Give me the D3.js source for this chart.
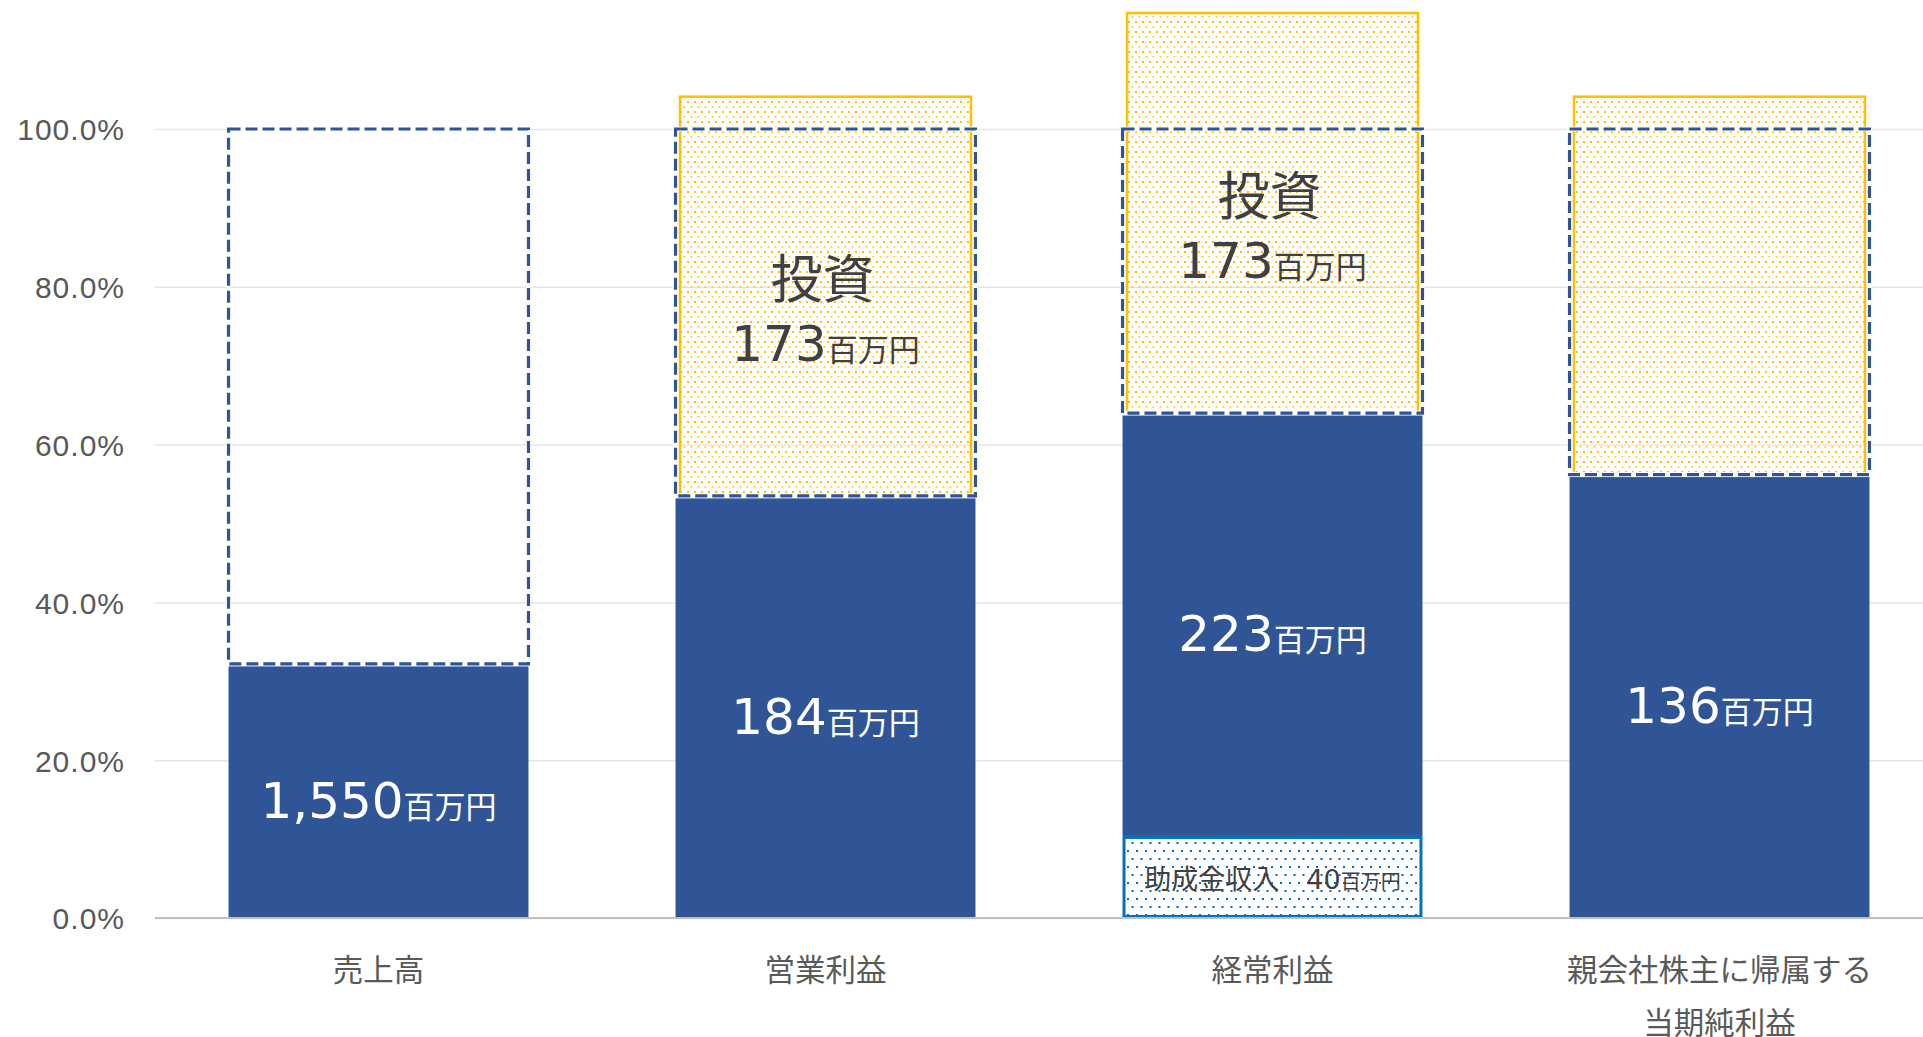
<!DOCTYPE html>
<html>
<head>
<meta charset="utf-8">
<script src="https://cdn.jsdelivr.net/npm/d3@7"></script>
<style>
  html, body { margin: 0; padding: 0; background: #fff; overflow: hidden; }
  svg { display: block; font-family: "DejaVu Sans", "Noto Sans CJK JP", sans-serif; }
</style>
</head>
<body>
<div id="chart"></div>
<script>
// values (percent of the bar scale)
var categories = ["売上高", "営業利益", "経常利益", "親会社株主に帰属する\n当期純利益"];
var subsidy    = [0, 0, 10.4, 0];
var profit     = [32.2, 53.5, 53.6, 56.2];
var investment = [0, 50.6, 50.7, 47.9];
var profitText = ["1,550", "184", "223", "136"];
var investText = ["", "173", "173", ""];
var subsidyText = ["", "", "助成金収入　40", ""];
var tickValues = [0, 20, 40, 60, 80, 100];
var unit = "百万円";

var width = 1923, height = 1037;
var blue = "#2F5597", yellow = "#FFC000", subBlue = "#0070C0";

var rows = categories.map(function(c, i) {
	return { cat: c, subsidy: subsidy[i], profit: profit[i],
		remainder: 100 - subsidy[i] - profit[i], investment: investment[i] };
});

var x = d3.scaleBand()
	.domain(categories)
	.range([155, 1943])
	.paddingInner(0.329)
	.paddingOuter(0.1645);

var y = d3.scaleLinear().domain([0, 100]).range([918, 129]);

var svg = d3.select("#chart").append("svg")
	.attr("width", width)
	.attr("height", height);

// patterns
var defs = svg.append("defs");
var pY = defs.append("pattern").attr("id", "dotsYellow")
	.attr("patternUnits", "userSpaceOnUse").attr("width", 7).attr("height", 10);
pY.append("rect").attr("x", 1).attr("y", 1).attr("width", 2).attr("height", 2).attr("fill", yellow);
pY.append("rect").attr("x", 4.5).attr("y", 6).attr("width", 1.8).attr("height", 1.8).attr("fill", yellow).attr("opacity", 0.8);

var pB = defs.append("pattern").attr("id", "dotsBlue")
	.attr("patternUnits", "userSpaceOnUse").attr("width", 9).attr("height", 16);
pB.append("rect").attr("x", 2).attr("y", 2).attr("width", 2).attr("height", 2).attr("fill", subBlue);
pB.append("rect").attr("x", 6.5).attr("y", 10).attr("width", 2).attr("height", 2).attr("fill", subBlue);

// gridlines + tick labels
var yAxis = d3.axisLeft(y)
	.tickValues(tickValues)
	.tickSize(-(width - 155))
	.tickPadding(30)
	.tickFormat(function(d) { return d.toFixed(1) + "%"; });

var gy = svg.append("g").attr("transform", "translate(155,0)").call(yAxis);
gy.select(".domain").remove();
gy.selectAll(".tick line").attr("stroke", "#E6E6E6").attr("stroke-width", 1.5);
gy.selectAll(".tick text")
	.attr("fill", "#595959")
	.style("font-size", "30px")
	.style("letter-spacing", "1px")
	.attr("dy", "0.36em");

var stackMain = d3.stack().keys(["subsidy", "profit", "remainder"])(rows);
var stackInv = d3.stack().keys(["subsidy", "profit", "investment"])(rows);

// investment (yellow dotted, a bit narrower)
var invW = x.bandwidth() * 0.97;
svg.append("g").selectAll("rect")
	.data(stackInv[2].filter(function(d) { return d.data.investment > 0; }))
	.enter().append("rect")
		.attr("x", function(d) { return x(d.data.cat) + (x.bandwidth() - invW) / 2; })
		.attr("y", function(d) { return y(d[1]); })
		.attr("width", invW)
		.attr("height", function(d) { return y(d[0]) - y(d[1]); })
		.attr("fill", "url(#dotsYellow)")
		.attr("stroke", yellow)
		.attr("stroke-width", 2.5);

// profit (solid blue)
svg.append("g").selectAll("rect")
	.data(stackMain[1])
	.enter().append("rect")
		.attr("x", function(d) { return x(d.data.cat); })
		.attr("y", function(d) { return y(d[1]); })
		.attr("width", x.bandwidth())
		.attr("height", function(d) { return y(d[0]) - y(d[1]); })
		.attr("fill", blue);

// subsidy (blue dotted)
var subRows = stackMain[0].filter(function(d) { return d.data.subsidy > 0; });
svg.append("g").selectAll("rect")
	.data(subRows)
	.enter().append("rect")
		.attr("x", function(d) { return x(d.data.cat) + 1.5; })
		.attr("y", function(d) { return y(d[1]) + 1.5; })
		.attr("width", x.bandwidth() - 3)
		.attr("height", function(d) { return y(d[0]) - y(d[1]) - 3; })
		.attr("fill", "#fff")
		.attr("stroke", subBlue)
		.attr("stroke-width", 3);
svg.append("g").selectAll("rect")
	.data(subRows)
	.enter().append("rect")
		.attr("x", function(d) { return x(d.data.cat) + 3; })
		.attr("y", function(d) { return y(d[1]) + 3; })
		.attr("width", x.bandwidth() - 6)
		.attr("height", function(d) { return y(d[0]) - y(d[1]) - 6; })
		.attr("fill", "url(#dotsBlue)");

// remainder up to 100% (dashed outline, no fill)
var rem = svg.append("g").selectAll("g")
	.data(stackMain[2])
	.enter().append("g");
rem.append("rect")
	.attr("x", function(d) { return x(d.data.cat); })
	.attr("y", function(d) { return y(d[1]); })
	.attr("width", x.bandwidth())
	.attr("height", function(d) { return y(d[0]) - y(d[1]); })
	.attr("fill", "none")
	.attr("stroke", "#fff")
	.attr("stroke-width", 5);
rem.append("rect")
	.attr("x", function(d) { return x(d.data.cat); })
	.attr("y", function(d) { return y(d[1]); })
	.attr("width", x.bandwidth())
	.attr("height", function(d) { return y(d[0]) - y(d[1]); })
	.attr("fill", "none")
	.attr("stroke", blue)
	.attr("stroke-width", 3.2)
	.attr("stroke-dasharray", "12 5");

// zero line
svg.append("line")
	.attr("x1", 155).attr("x2", width)
	.attr("y1", y(0)).attr("y2", y(0))
	.attr("stroke", "#BFBFBF").attr("stroke-width", 2);

// labels: profit
var pl = svg.append("g").selectAll("text")
	.data(stackMain[1])
	.enter().append("text")
		.attr("x", function(d) { return x(d.data.cat) + x.bandwidth() / 2; })
		.attr("y", function(d) { return (y(d[0]) + y(d[1])) / 2 + 27; })
		.attr("text-anchor", "middle")
		.attr("fill", "#fff");
pl.append("tspan").style("font-size", "50px")
	.text(function(d, i) { return profitText[i]; });
pl.append("tspan").style("font-size", "31px").text(unit);

// labels: investment
var il = svg.append("g").selectAll("g")
	.data(stackInv[2].filter(function(d, i) { return investText[i] !== ""; }))
	.enter().append("g");
il.append("text")
	.attr("x", function(d) { return x(d.data.cat) + x.bandwidth() / 2 - 3; })
	.attr("y", function(d) { return (y(d[0]) + y(d[1])) / 2 + 2; })
	.attr("text-anchor", "middle")
	.attr("fill", "#404040")
	.style("font-size", "52px")
	.text("投資");
var il2 = il.append("text")
	.attr("x", function(d) { return x(d.data.cat) + x.bandwidth() / 2; })
	.attr("y", function(d) { return (y(d[0]) + y(d[1])) / 2 + 65; })
	.attr("text-anchor", "middle")
	.attr("fill", "#404040");
il2.append("tspan").style("font-size", "50px")
	.text(function(d) { return investText[categories.indexOf(d.data.cat)]; });
il2.append("tspan").style("font-size", "31px").text(unit);

// labels: subsidy
var sl = svg.append("g").selectAll("text")
	.data(stackMain[0].filter(function(d, i) { return subsidyText[i] !== ""; }))
	.enter().append("text")
		.attr("x", function(d) { return x(d.data.cat) + x.bandwidth() / 2; })
		.attr("y", function(d) { return (y(d[0]) + y(d[1])) / 2 + 12; })
		.attr("text-anchor", "middle")
		.attr("fill", "#404040");
sl.append("tspan").style("font-size", "27px")
	.text(function(d) { return subsidyText[categories.indexOf(d.data.cat)]; });
sl.append("tspan").style("font-size", "20px").text(unit);

// category labels
var cl = svg.append("g").selectAll("text")
	.data(categories)
	.enter().append("text")
		.attr("x", function(d) { return x(d) + x.bandwidth() / 2; })
		.attr("y", 981)
		.attr("text-anchor", "middle")
		.attr("fill", "#595959")
		.style("font-size", "30.5px");
cl.selectAll("tspan")
	.data(function(d) { return d.split("\n"); })
	.enter().append("tspan")
		.attr("x", function() { return this.parentNode.getAttribute("x"); })
		.attr("dy", function(d, i) { return i === 0 ? 0 : 53; })
		.text(function(d) { return d; });
</script>
</body>
</html>
